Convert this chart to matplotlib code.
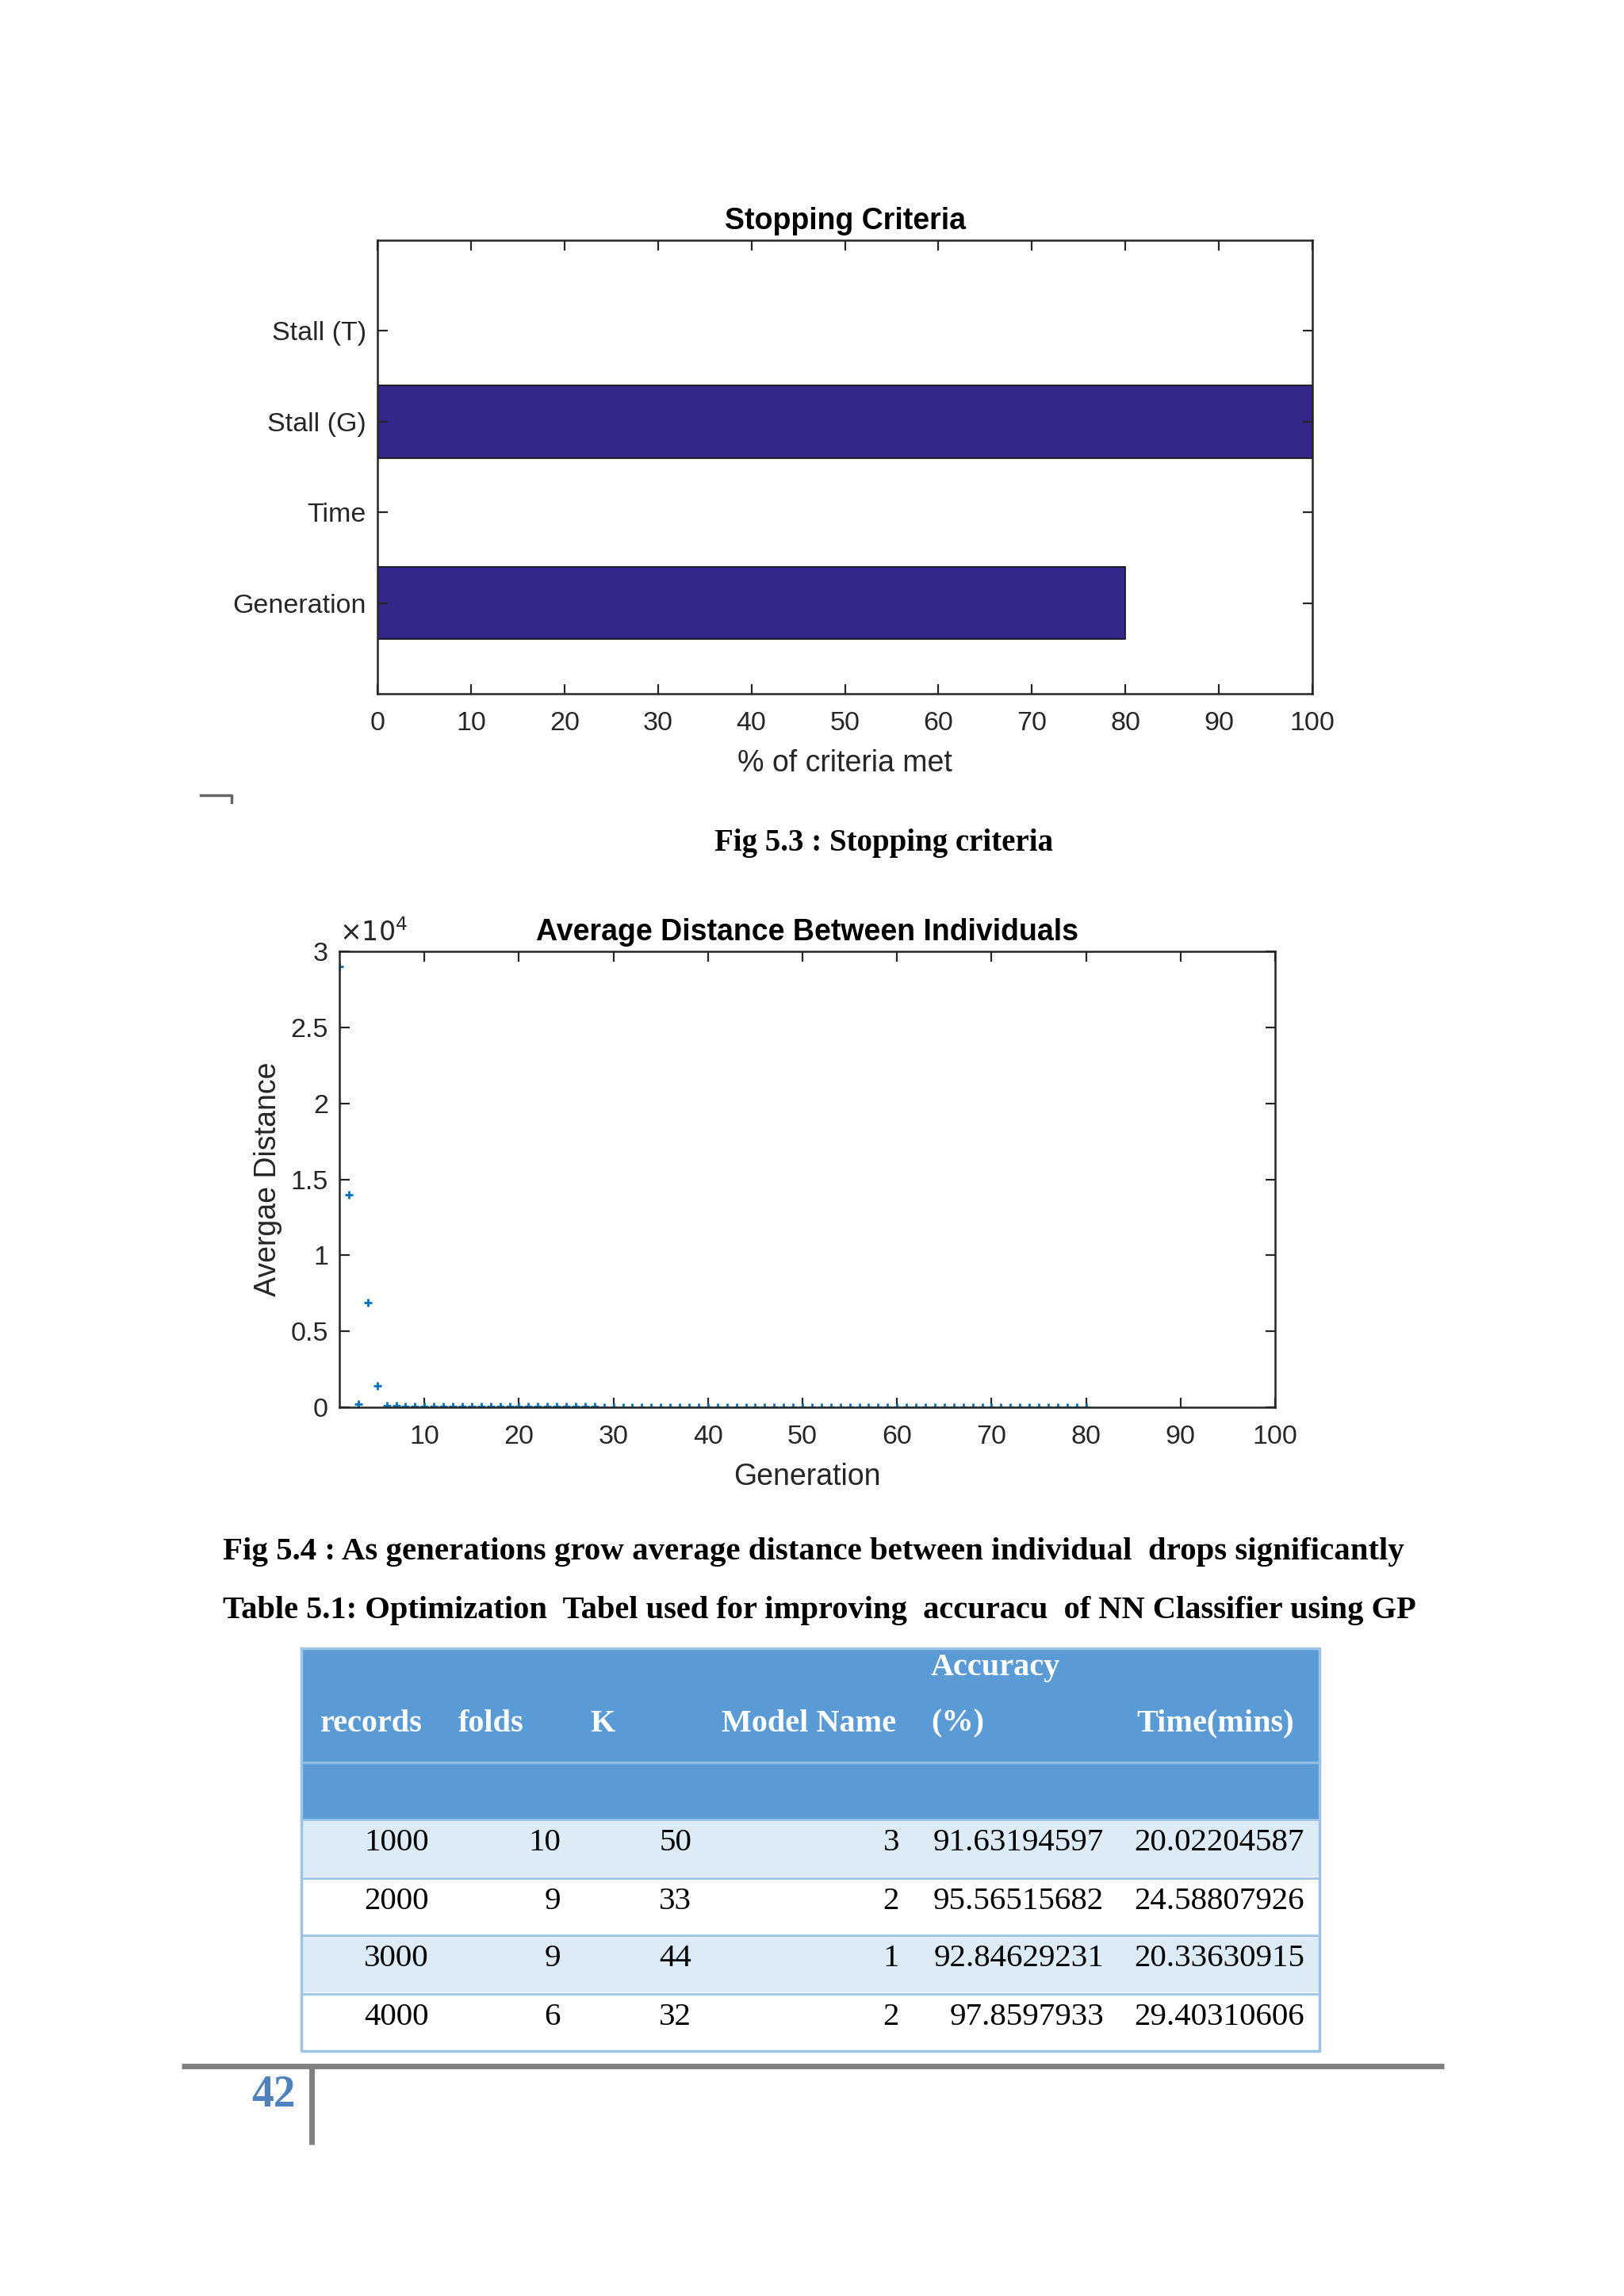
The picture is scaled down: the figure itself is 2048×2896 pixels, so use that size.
import numpy as np
import matplotlib.pyplot as plt
from matplotlib.patches import Rectangle
from matplotlib.ticker import FuncFormatter

W, H = 2048, 2896

# Fig 5.3 : stopping criteria
criteria = ['Generation', 'Time', 'Stall (G)', 'Stall (T)']
criteria_met = [80, 0, 100, 0]

# Fig 5.4 : average distance per generation
generations = list(range(1, 81))
avg_distance = [29000, 14000, 200, 6900, 1400,
                90, 80, 70, 65, 60, 55, 50, 48, 45, 42,
                40, 38, 36, 35, 34, 33, 32, 30, 30, 29,
                28, 27, 27, 26, 25, 25, 24, 24, 23, 23,
                22, 22, 21, 21, 20, 20, 20, 19, 19, 19,
                18, 18, 18, 17, 17, 17, 16, 16, 16, 16,
                15, 15, 15, 15, 14, 14, 14, 14, 13, 13,
                13, 13, 12, 12, 12, 12, 12, 11, 11, 11,
                11, 11, 10, 10, 10]

# Table 5.1
col_names = ['records', 'folds', 'K', 'Model Name', '(%)', 'Time(mins)']
records = ['1000', '2000', '3000', '4000']
folds = ['10', '9', '9', '6']
k_vals = ['50', '33', '44', '32']
model_name = ['3', '2', '1', '2']
accuracy = ['91.63194597', '95.56515682', '92.84629231', '97.8597933']
time_mins = ['20.02204587', '24.58807926', '20.33630915', '29.40310606']

sans = 'Liberation Sans'
serif = 'Liberation Serif'
txt = '#262626'

fig = plt.figure(figsize=(W / 100, H / 100), dpi=100)
fig.patch.set_facecolor('white')

# page overlay in pixel coords
page = fig.add_axes([0, 0, 1, 1], zorder=0)
page.set_xlim(0, W)
page.set_ylim(H, 0)
page.axis('off')


def style_axes(ax):
    for s in ax.spines.values():
        s.set_linewidth(1.8)
        s.set_color(txt)
    ax.tick_params(direction='in', length=9, width=1.6, colors=txt,
                   top=True, right=True, labelsize=24.5)
    for lab in ax.get_xticklabels() + ax.get_yticklabels():
        lab.set_fontfamily(sans)


# ---------- chart 1 ----------
ax1 = fig.add_axes([476 / W, 1 - 875 / H, (1655 - 476) / W, (875 - 303) / H], zorder=1)
ypos = np.arange(1, len(criteria) + 1)
ax1.barh(ypos, criteria_met, height=0.8, color='#33288A', edgecolor='#111111', linewidth=1.2)
ax1.set_xlim(0, 100)
ax1.set_ylim(0, 5)
ax1.set_xticks(range(0, 101, 10))
ax1.set_yticks(ypos)
ax1.set_yticklabels(criteria)
style_axes(ax1)
ax1.tick_params(axis='x', pad=16)
ax1.tick_params(axis='y', pad=10)
ax1.set_title('Stopping Criteria', fontsize=27, fontweight='bold', family=sans, color='black', pad=10)
ax1.set_xlabel('% of criteria met', fontsize=27, family=sans, color=txt, labelpad=12)

# ---------- chart 2 ----------
ax2 = fig.add_axes([428 / W, 1 - 1775 / H, (1608 - 428) / W, (1775 - 1200) / H], zorder=1)
ax2.plot(generations, avg_distance, linestyle='none', marker='+', markersize=7,
         markeredgewidth=2, color='#0072BD')
ax2.set_xlim(1, 100)
ax2.set_ylim(0, 30000)
ax2.set_xticks(range(10, 101, 10))
ax2.set_yticks(range(0, 30001, 5000))
ax2.yaxis.set_major_formatter(FuncFormatter(lambda v, p: f'{v / 1e4:g}'))
style_axes(ax2)
ax2.tick_params(axis='x', pad=16)
ax2.tick_params(axis='y', pad=10)
ax2.set_title('Average Distance Between Individuals', fontsize=27, fontweight='bold',
              family=sans, color='black', pad=10)
ax2.set_xlabel('Generation', fontsize=27, family=sans, color=txt, labelpad=12)
ax2.set_ylabel('Avergae Distance', fontsize=27, family=sans, color=txt, labelpad=8)
ax2.text(0.0, 1.01, r'$\times10^{4}$', transform=ax2.transAxes, fontsize=24,
         color=txt, ha='left', va='bottom')

# ---------- captions ----------
page.plot([253, 292, 292], [1003, 1003, 1012], color='#666666', lw=2.5)
page.text(1115, 1064, 'Fig 5.3 : Stopping criteria', family=serif, fontweight='bold',
          fontsize=28, ha='center', va='center')
page.text(281, 1957, 'Fig 5.4 : As generations grow average distance between individual  drops significantly',
          family=serif, fontweight='bold', fontsize=29.4, ha='left', va='center')
page.text(281, 2031, 'Table 5.1: Optimization  Tabel used for improving  accuracu  of NN Classifier using GP',
          family=serif, fontweight='bold', fontsize=29.2, ha='left', va='center')

# ---------- table ----------
tx0, tx1 = 380, 1664
head_blue = '#5B9BD5'
border = '#9DC3E6'
page.add_patch(Rectangle((tx0, 2079), tx1 - tx0, 2295 - 2079, facecolor=head_blue, edgecolor='none'))
page.plot([tx0, tx1], [2223, 2223], color='#8DBCE8', lw=2.5)
row_tops = [2295, 2369, 2441, 2515]
row_h = 72
for i, top in enumerate(row_tops):
    fc = '#DDEBF7' if i % 2 == 0 else 'white'
    page.add_patch(Rectangle((tx0, top), tx1 - tx0, row_h, facecolor=fc, edgecolor='none'))
    page.plot([tx0, tx1], [top, top], color=border, lw=2)
page.plot([tx0, tx1, tx1, tx0, tx0], [2079, 2079, 2587, 2587, 2079], color=border, lw=2.5)

head_x = [404, 578, 744, 910, 1174, 1433]
for x, name in zip(head_x, col_names):
    page.text(x, 2174, name, family=serif, fontweight='bold', fontsize=29, color='white',
              ha='left', va='center')
page.text(1174, 2103, 'Accuracy', family=serif, fontweight='bold', fontsize=29, color='white',
          ha='left', va='center')

col_right = [541, 707, 872, 1134, 1392, 1645]
columns = [records, folds, k_vals, model_name, accuracy, time_mins]
for i, top in enumerate(row_tops):
    for x, col in zip(col_right, columns):
        page.text(x, top + row_h / 2 - 6, col[i], family=serif, fontsize=29.5, color='black',
                  ha='right', va='center')

# ---------- footer ----------
page.plot([229, 1821], [2606, 2606], color='#808080', lw=5, solid_capstyle='butt')
page.plot([393, 393], [2606, 2705], color='#808080', lw=5, solid_capstyle='butt')
page.text(345, 2643, '42', family=serif, fontweight='bold', fontsize=40, color='#4F81BD',
          ha='center', va='center')

fig.savefig('out.png', dpi=100)
